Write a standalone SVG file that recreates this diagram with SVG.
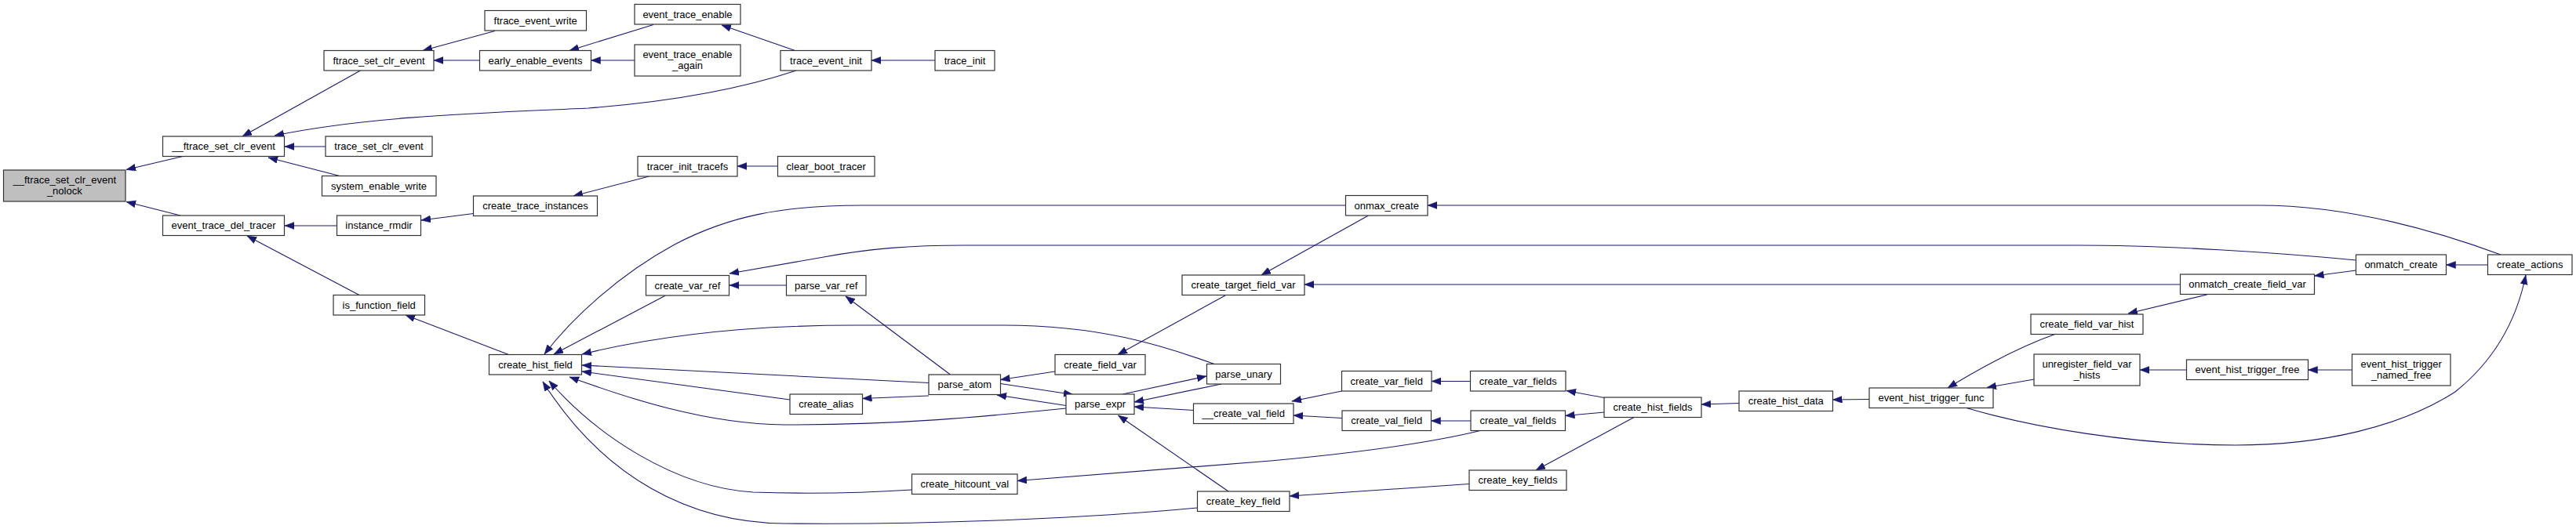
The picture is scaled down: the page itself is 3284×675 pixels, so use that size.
<svg xmlns="http://www.w3.org/2000/svg" width="3284" height="675" viewBox="0 0 3284 675">
<style>
.n{fill:#ffffff;stroke:#333333;stroke-width:1.2}
.r{fill:#bfbfbf;stroke:#333333;stroke-width:1.2}
text{font-family:"Liberation Sans",Arial,sans-serif;font-size:13px;fill:#000000;text-anchor:middle}
.e{fill:none;stroke:#191970;stroke-width:1.1;marker-end:url(#ah)}
</style>
<defs>
<marker id="ah" markerUnits="userSpaceOnUse" markerWidth="13" markerHeight="10" refX="12" refY="4.5" orient="auto">
<path d="M0,0 L12,4.5 L0,9 z" fill="#191970" stroke="#191970" stroke-width="0.5"/>
</marker>
</defs>
<rect width="3284" height="675" fill="#ffffff"/>
<g id="edges">
<path class="e" d="M233,199.5 L161,216.5"/>
<path class="e" d="M230,275 L161,257.5"/>
<path class="e" d="M459.5,90 L309,174"/>
<path class="e" d="M1015,90 C970,105 890,127 750,138 C620,144 470,148 350,173"/>
<path class="e" d="M415,187 L363,187"/>
<path class="e" d="M433,224.5 L342,201"/>
<path class="e" d="M631,39.5 L539,64.5"/>
<path class="e" d="M611.5,77 L553,77"/>
<path class="e" d="M833,31.5 L726,64.5"/>
<path class="e" d="M809,77 L753.5,77"/>
<path class="e" d="M1013.5,64.5 L920,32"/>
<path class="e" d="M1192,77 L1111,77"/>
<path class="e" d="M429.5,288 L363,288"/>
<path class="e" d="M458,376.5 L315,301"/>
<path class="e" d="M603.5,272.5 L537,281"/>
<path class="e" d="M827.5,225 L731,250"/>
<path class="e" d="M991.5,212 L940,212"/>
<path class="e" d="M648.5,452.5 L517,402"/>
<path class="e" d="M1715.5,262 L1100,262 C1000,262 930,275 860,312 C790,350 730,405 694,452"/>
<path class="e" d="M848.5,377 L706,452"/>
<path class="e" d="M3003.5,332 C2900,322 2760,313 2650,313 L1230,313 C1160,313 1110,317 1050,328 L930,349"/>
<path class="e" d="M1002.5,364 L930,364"/>
<path class="e" d="M1211.5,478 L1078,378"/>
<path class="e" d="M1548,464.5 C1480,440 1400,415 1280,415 L1090,415 C950,415 840,428 742,452"/>
<path class="e" d="M1184,488.5 L742,466"/>
<path class="e" d="M1007,510 L742,474"/>
<path class="e" d="M1359,521 C1250,532 1150,542 1000,542 C900,541 800,508 726,481"/>
<path class="e" d="M1162.5,625 C1100,629 1020,630 960,628 C860,622 760,555 700,486"/>
<path class="e" d="M1526.5,648 C1400,660 1200,670 1000,668 C880,667 770,610 692,487"/>
<path class="e" d="M1744.5,275 L1608,351"/>
<path class="e" d="M1562,377 L1425,452.5"/>
<path class="e" d="M2779.5,363 L1663,363"/>
<path class="e" d="M3188,325 C3120,300 3000,262 2880,262 L1820,262"/>
<path class="e" d="M1345,474 L1275.5,484.5"/>
<path class="e" d="M1359,517.5 L1271,504"/>
<path class="e" d="M1275.5,489.5 L1368,503.5"/>
<path class="e" d="M1431,503 L1538,480"/>
<path class="e" d="M1557,490 L1446,513"/>
<path class="e" d="M1521.5,523.5 L1446,519"/>
<path class="e" d="M1566,627 L1425.5,530"/>
<path class="e" d="M1887,549.5 C1840,561 1760,575 1620,588 L1297,613.5"/>
<path class="e" d="M1710.5,499 L1647,512"/>
<path class="e" d="M1711,533.5 L1649,530"/>
<path class="e" d="M1874.5,486.5 L1825,486.5"/>
<path class="e" d="M1875,537 L1824.5,537"/>
<path class="e" d="M2045,507.5 L1997,498.5"/>
<path class="e" d="M2045,526 L1995.5,530.5"/>
<path class="e" d="M2083,532.5 L1958,600"/>
<path class="e" d="M1873,617.5 L1644,633"/>
<path class="e" d="M2217,514.5 L2169,516"/>
<path class="e" d="M2383,509.5 L2336.5,510"/>
<path class="e" d="M2621,426 C2590,437 2540,460 2483,495"/>
<path class="e" d="M2593,484 L2533,494.5"/>
<path class="e" d="M2505,520 C2590,545 2720,568 2850,568 C2960,568 3060,545 3130,500 C3180,460 3208,410 3220,351"/>
<path class="e" d="M2813.5,376 L2713,400"/>
<path class="e" d="M3003.5,345 L2950.5,352"/>
<path class="e" d="M3171.5,338 L3118.5,338"/>
<path class="e" d="M2787.5,472 L2728,472"/>
<path class="e" d="M2998.5,472 L2942.5,472"/>
<path class="e" d="M1184,505 L1099.5,508.5"/>
</g>
<g id="n_ftrace_set_clr_event_nolock"><rect class="r" x="4.5" y="217" width="155.5" height="40"/><text x="82.3" y="234">__ftrace_set_clr_event</text><text x="82.3" y="248">_nolock</text></g>
<g id="n___ftrace_set_clr_event"><rect class="n" x="207.5" y="174" width="155" height="25.5"/><text x="285" y="191">__ftrace_set_clr_event</text></g>
<g id="n_event_trace_del_tracer"><rect class="n" x="207.5" y="275" width="155" height="25.5"/><text x="285" y="292">event_trace_del_tracer</text></g>
<g id="n_ftrace_set_clr_event"><rect class="n" x="413" y="64.5" width="140" height="25.5"/><text x="483" y="81.5">ftrace_set_clr_event</text></g>
<g id="n_trace_set_clr_event"><rect class="n" x="415" y="174" width="136" height="25.5"/><text x="483" y="191">trace_set_clr_event</text></g>
<g id="n_system_enable_write"><rect class="n" x="410.5" y="224.5" width="145.5" height="25.5"/><text x="483" y="241.5">system_enable_write</text></g>
<g id="n_instance_rmdir"><rect class="n" x="429.5" y="275" width="107" height="25.5"/><text x="483" y="292">instance_rmdir</text></g>
<g id="n_is_function_field"><rect class="n" x="425" y="376.5" width="116.5" height="25.5"/><text x="483.2" y="393.5">is_function_field</text></g>
<g id="n_ftrace_event_write"><rect class="n" x="618" y="13.5" width="129.5" height="25.5"/><text x="682.7" y="30.5">ftrace_event_write</text></g>
<g id="n_early_enable_events"><rect class="n" x="611.5" y="64.5" width="142" height="25.5"/><text x="682.5" y="81.5">early_enable_events</text></g>
<g id="n_create_trace_instances"><rect class="n" x="603.5" y="250" width="158" height="25.5"/><text x="682.5" y="267">create_trace_instances</text></g>
<g id="n_create_hist_field"><rect class="n" x="623.5" y="452.5" width="118" height="25.5"/><text x="682.5" y="469.5">create_hist_field</text></g>
<g id="n_event_trace_enable"><rect class="n" x="809" y="5.5" width="135" height="25.5"/><text x="876.5" y="22.5">event_trace_enable</text></g>
<g id="n_event_trace_enable_again"><rect class="n" x="809" y="57" width="135" height="40"/><text x="876.5" y="74">event_trace_enable</text><text x="876.5" y="88">_again</text></g>
<g id="n_tracer_init_tracefs"><rect class="n" x="813" y="199.5" width="127" height="25.5"/><text x="876.5" y="216.5">tracer_init_tracefs</text></g>
<g id="n_create_var_ref"><rect class="n" x="823.5" y="351.5" width="106" height="25.5"/><text x="876.5" y="368.5">create_var_ref</text></g>
<g id="n_trace_event_init"><rect class="n" x="995" y="64.5" width="116" height="25.5"/><text x="1053" y="81.5">trace_event_init</text></g>
<g id="n_clear_boot_tracer"><rect class="n" x="991.5" y="199.5" width="123.5" height="25.5"/><text x="1053.2" y="216.5">clear_boot_tracer</text></g>
<g id="n_parse_var_ref"><rect class="n" x="1002.5" y="351.5" width="101.5" height="25.5"/><text x="1053.2" y="368.5">parse_var_ref</text></g>
<g id="n_create_alias"><rect class="n" x="1007" y="503" width="92.5" height="25.5"/><text x="1053.2" y="520">create_alias</text></g>
<g id="n_trace_init"><rect class="n" x="1192" y="64.5" width="76" height="25.5"/><text x="1230" y="81.5">trace_init</text></g>
<g id="n_parse_atom"><rect class="n" x="1184" y="478" width="91.5" height="25.5"/><text x="1229.8" y="495">parse_atom</text></g>
<g id="n_create_hitcount_val"><rect class="n" x="1162.5" y="605" width="134.5" height="25.5"/><text x="1229.8" y="622">create_hitcount_val</text></g>
<g id="n_create_field_var"><rect class="n" x="1345" y="452.5" width="115" height="25.5"/><text x="1402.5" y="469.5">create_field_var</text></g>
<g id="n_parse_expr"><rect class="n" x="1359" y="503" width="87" height="25.5"/><text x="1402.5" y="520">parse_expr</text></g>
<g id="n_create_target_field_var"><rect class="n" x="1507" y="351" width="156" height="25.5"/><text x="1585" y="368">create_target_field_var</text></g>
<g id="n_parse_unary"><rect class="n" x="1538.5" y="464.5" width="94" height="25.5"/><text x="1585.5" y="481.5">parse_unary</text></g>
<g id="n___create_val_field"><rect class="n" x="1521.5" y="515" width="127.5" height="25.5"/><text x="1585.2" y="532">__create_val_field</text></g>
<g id="n_create_key_field"><rect class="n" x="1526.5" y="627" width="117.5" height="25.5"/><text x="1585.2" y="644">create_key_field</text></g>
<g id="n_onmax_create"><rect class="n" x="1715.5" y="249.5" width="104.5" height="25.5"/><text x="1767.7" y="266.5">onmax_create</text></g>
<g id="n_create_var_field"><rect class="n" x="1710.5" y="473.5" width="114.5" height="25.5"/><text x="1767.7" y="490.5">create_var_field</text></g>
<g id="n_create_val_field"><rect class="n" x="1711" y="524" width="113.5" height="25.5"/><text x="1767.7" y="541">create_val_field</text></g>
<g id="n_create_var_fields"><rect class="n" x="1874.5" y="473.5" width="121.5" height="25.5"/><text x="1935.2" y="490.5">create_var_fields</text></g>
<g id="n_create_val_fields"><rect class="n" x="1875" y="524" width="120.5" height="25.5"/><text x="1935.2" y="541">create_val_fields</text></g>
<g id="n_create_key_fields"><rect class="n" x="1873" y="600" width="124" height="25.5"/><text x="1935" y="617">create_key_fields</text></g>
<g id="n_create_hist_fields"><rect class="n" x="2045" y="507" width="124" height="25.5"/><text x="2107" y="524">create_hist_fields</text></g>
<g id="n_create_hist_data"><rect class="n" x="2217" y="499" width="119.5" height="25.5"/><text x="2276.7" y="516">create_hist_data</text></g>
<g id="n_event_hist_trigger_func"><rect class="n" x="2383" y="495" width="158" height="25.5"/><text x="2462" y="512">event_hist_trigger_func</text></g>
<g id="n_create_field_var_hist"><rect class="n" x="2589" y="401" width="143" height="25.5"/><text x="2660.5" y="418">create_field_var_hist</text></g>
<g id="n_unregister_field_var_hists"><rect class="n" x="2593" y="452" width="135" height="40"/><text x="2660.5" y="469">unregister_field_var</text><text x="2660.5" y="483">_hists</text></g>
<g id="n_onmatch_create_field_var"><rect class="n" x="2779.5" y="350" width="171" height="25.5"/><text x="2865" y="367">onmatch_create_field_var</text></g>
<g id="n_event_hist_trigger_free"><rect class="n" x="2787.5" y="459" width="155" height="25.5"/><text x="2865" y="476">event_hist_trigger_free</text></g>
<g id="n_onmatch_create"><rect class="n" x="3003.5" y="325" width="115" height="25.5"/><text x="3061" y="342">onmatch_create</text></g>
<g id="n_event_hist_trigger_named_free"><rect class="n" x="2998.5" y="452" width="125.5" height="40"/><text x="3061.2" y="469">event_hist_trigger</text><text x="3061.2" y="483">_named_free</text></g>
<g id="n_create_actions"><rect class="n" x="3171.5" y="325" width="107.5" height="25.5"/><text x="3225.2" y="342">create_actions</text></g>
</svg>
